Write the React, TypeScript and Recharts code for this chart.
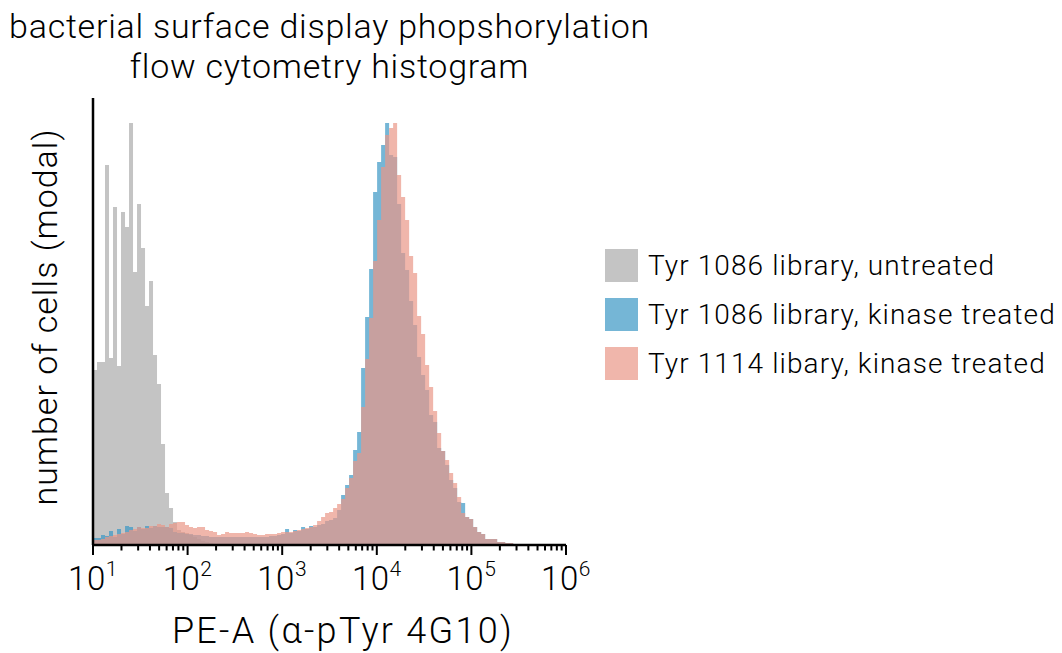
import React from 'react';
import { ComposedChart, Area, XAxis, YAxis, Legend } from 'recharts';

// Histogram bins: log10(PE-A) starting at 10^1, each bin is BIN_DECADES wide
const LOG_START = 1;
const BIN_DECADES = 0.0423;
const N_BINS = 106;

// Counts (modal-scaled) per bin
const untreated1086 = [175, 183, 183, 380, 187, 338, 179, 333, 318, 422, 273, 341, 297, 239, 264, 190, 161, 101, 52, 37, 23, 15, 13, 12, 10, 8, 6, 4, 3, 2, 1];

const kinase1086 = [
  7, 7, 10, 9, 14, 8, 16, 11, 19, 18, 14, 18, 16, 19, 17, 19, 18, 18, 18, 17,
  13, 12, 12, 11, 11, 10, 10, 9, 9, 8,
  8, 8, 8, 8, 8, 8, 8, 8, 8, 8, 8, 8, 8, 8, 9, 9, 10, 11,
  16, 12, 15, 14, 18, 16, 19, 18, 20, 21, 24,
  25, 27, 35, 50, 60, 70, 95, 113, 177, 228, 276, 353, 383, 400, 422, 390, 388, 341, 292, 275, 244, 220, 188, 170, 155, 130, 123, 97, 94, 80, 65, 57, 43, 42, 28, 26, 18, 13, 11, 6, 6, 6, 3, 3, 2, 2, 0,
];

const kinase1114 = [
  5, 5, 6, 8, 9, 10, 11, 12, 13, 15, 16, 18, 17, 17, 19, 19, 21, 20, 18, 21, 22, 23, 23, 20, 18, 17, 18, 18, 15,
  14, 13, 10, 11, 13, 12, 12, 12, 12, 13, 12, 11, 10, 10, 11, 11, 11, 12, 13, 13, 13, 14, 15, 16, 17, 18, 20, 24, 28, 32,
  33, 37, 41, 46, 57, 67, 84, 92, 138, 186, 227, 284, 325, 378, 410, 417, 422, 370, 348, 325, 289, 272, 229, 211, 180, 158, 134, 112, 94, 85, 72, 62, 48, 32, 28, 26, 18, 13, 11, 6, 6, 6, 3, 3, 2, 2, 0,
];

const seriesNames = ['Tyr 1086 library, untreated', 'Tyr 1086 library, kinase treated', 'Tyr 1114 libary, kinase treated'];
const seriesKeys = ['untreated1086', 'kinase1086', 'kinase1114'];
const seriesColors = ['#ababab', '#3b97c4', '#ea9788'];
const FILL_OPACITY = 0.7;

const majorTicks = [1, 2, 3, 4, 5, 6];
const minorMultipliers = [2, 3, 4, 5, 6, 7, 8, 9];

const Y_MAX = 447;
const FONT = 'Roboto, "Liberation Sans", sans-serif';

const valueAt = (arr: number[], i: number) => (i < arr.length ? arr[i] : 0);

const data = Array.from({ length: N_BINS + 1 }, (_, i) => {
  const idx = Math.min(i, N_BINS - 1);
  return {
    x: LOG_START + i * BIN_DECADES,
    untreated1086: valueAt(untreated1086, idx),
    kinase1086: valueAt(kinase1086, idx),
    kinase1114: valueAt(kinase1114, idx),
  };
});

const allTicks: number[] = [];
majorTicks.forEach((m, k) => {
  allTicks.push(m);
  if (k < majorTicks.length - 1) minorMultipliers.forEach((mm) => allTicks.push(m + Math.log10(mm)));
});

const isMajor = (v: number) => Math.abs(v - Math.round(v)) < 1e-6;

const LogTick = (props: any) => {
  const { x, y, payload } = props;
  const v = payload.value;
  const major = isMajor(v);
  return (
    <g>
      <line x1={x} x2={x} y1={y} y2={y + (major ? 10 : 5.5)} stroke="#000" strokeWidth={2} />
      {major && (
        <text x={x} y={y + 45} textAnchor="middle" fill="#000" fontFamily={FONT} fontWeight={300} letterSpacing={0.5}>
          <tspan fontSize={33}>10</tspan>
          <tspan fontSize={21} dy={-14}>{Math.round(v)}</tspan>
        </text>
      )}
    </g>
  );
};

const renderLegend = () => (
  <div style={{ fontFamily: FONT, fontWeight: 300 }}>
    {seriesNames.map((name, i) => (
      <div key={name} style={{ display: 'flex', alignItems: 'center', height: 49 }}>
        <div style={{ width: 33, height: 33, background: seriesColors[i], opacity: FILL_OPACITY, marginRight: 10, flexShrink: 0 }} />
        <span style={{ fontSize: 28, letterSpacing: 1.1, color: '#000', whiteSpace: 'nowrap' }}>{name}</span>
      </div>
    ))}
  </div>
);

export default function App() {
  return (
    <div style={{ position: 'absolute', left: 0, top: 0, width: 1062, height: 653, background: '#fff', fontFamily: FONT }}>
      <ComposedChart width={1062} height={653} data={data} margin={{ top: 98, right: 496, bottom: 48, left: 92 }}>
        <XAxis
          type="number"
          dataKey="x"
          domain={[1, 6]}
          ticks={allTicks}
          interval={0}
          allowDataOverflow
          tickLine={false}
          tickSize={0}
          tickMargin={0}
          height={60}
          axisLine={{ stroke: '#000', strokeWidth: 2.5 }}
          tick={<LogTick />}
        />
        <YAxis
          type="number"
          domain={[0, Y_MAX]}
          tick={false}
          tickLine={false}
          width={1}
          axisLine={{ stroke: '#000', strokeWidth: 2.5 }}
        />
        {seriesKeys.map((k, i) => (
          <Area
            key={k}
            type="stepAfter"
            dataKey={k}
            name={seriesNames[i]}
            stroke="none"
            fill={seriesColors[i]}
            fillOpacity={FILL_OPACITY}
            isAnimationActive={false}
            dot={false}
            activeDot={false}
          />
        ))}
        <Legend
          layout="vertical"
          align="center"
          verticalAlign="middle"
          wrapperStyle={{ left: 605, top: 241, width: 457 }}
          content={renderLegend}
        />
        <text x={329.5} y={38} textAnchor="middle" fontSize={34} letterSpacing={0.75} fontWeight={300} fontFamily={FONT} fill="#000">
          bacterial surface display phopshorylation
        </text>
        <text x={329.5} y={78} textAnchor="middle" fontSize={34} letterSpacing={0.75} fontWeight={300} fontFamily={FONT} fill="#000">
          flow cytometry histogram
        </text>
        <text x={343} y={643} textAnchor="middle" fontSize={36} letterSpacing={2.3} fontWeight={300} fontFamily={FONT} fill="#000">
          PE-A (α-pTyr 4G10)
        </text>
        <text
          x={57}
          y={317}
          textAnchor="middle"
          fontSize={34}
          letterSpacing={1}
          fontWeight={300}
          fontFamily={FONT}
          fill="#000"
          transform="rotate(-90 57 317)"
        >
          number of cells (modal)
        </text>
      </ComposedChart>
    </div>
  );
}
